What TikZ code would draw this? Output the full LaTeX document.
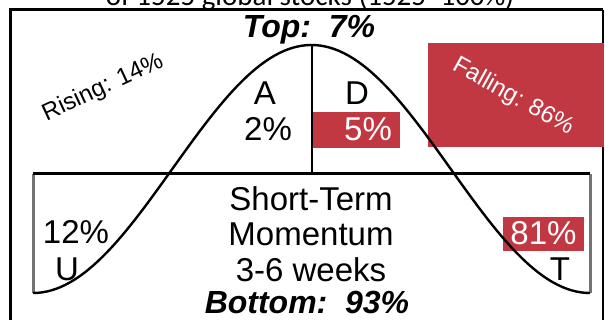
\documentclass[tikz,border=0pt]{standalone}
\usepackage{fontspec}
\setmainfont{Liberation Sans}
\newfontfamily\titulofont{Carlito}
\usetikzlibrary{positioning}
\definecolor{rojo}{RGB}{194,56,66}
\tikzset{
    etiqueta/.style={inner sep=0pt, anchor=base, font=\fontsize{33}{38}\selectfont},
    negrita/.style={etiqueta, font=\fontsize{32}{37}\selectfont\bfseries\itshape},
    girado/.style={inner sep=0pt, font=\fontsize{24}{28}\selectfont},
    cajaroja/.style={fill=rojo, text=white, inner sep=0pt},
    curva/.style={line width=2.4pt},
    lado/.style={line width=3pt, black!55},
}

\begin{document}
\begin{tikzpicture}[x=1pt, y=-1pt]
\useasboundingbox (0,0) rectangle (605,320);
\clip (0,0) rectangle (605,320);

% Titulo (cortado arriba)
\node[anchor=base, inner sep=0pt, font=\titulofont\fontsize{29}{34}\selectfont] (titulo) at (310,6) {of 1525 global stocks (1525=100\%)};

% Marco exterior
\draw[line width=3pt] (10,330) -- (10,10) -- (603,10);
\draw[line width=1.2pt] (603,10) -- (603,330);

% Cajas rojas
\node[cajaroja, minimum width=176pt, minimum height=104pt, anchor=north west] (caida) at (428,43) {};
\node[girado, text=white, rotate=-29] (falling) at (513,97) {Falling: 86\%};
\node[cajaroja, minimum width=87pt, minimum height=36pt, anchor=north west] (cajaD) at (313,112) {};
\node[cajaroja, minimum width=81pt, minimum height=34pt, anchor=north west] (cajaT) at (503,217) {};

% Caja interior
\coordinate (esqIzq) at (33,174);
\coordinate (esqDer) at (590,174);
\coordinate (pieIzq) at (33,293);
\coordinate (pieDer) at (590,293);
\draw[lado] (esqIzq) -- (pieIzq);
\draw[lado] (esqDer) -- (pieDer);
\draw[line width=3pt] (esqIzq) -- (esqDer);

% Curva del ciclo
\draw[curva] plot[domain=-180:180, samples=121] ({311.5+\x/360*557}, {169-124*cos(\x)});
\coordinate (cima) at (312,45);
\coordinate (base) at (312,174);
\draw[line width=2pt] (cima) -- (base);

% Textos
\node[negrita] (top) at (309,38) {Top:~~7\%};
\node[girado, rotate=25] (rising) at (103,88) {Rising: 14\%};
\node[etiqueta] (A) at (265,105) {A};
\node[etiqueta] (D) at (357,105) {D};
\node[etiqueta] (dosp) at (268,141) {2\%};
\node[etiqueta, text=white] (cincop) at (368,141) {5\%};
\node[etiqueta] (corto) at (311,211) {Short-Term};
\node[etiqueta] (momento) at (311,246) {Momentum};
\node[etiqueta] (semanas) at (311,282) {3-6 weeks};
\node[etiqueta] (docep) at (76,244) {12\%};
\node[etiqueta] (U) at (67,281) {U};
\node[etiqueta, text=white] (ochentap) at (543.5,245) {81\%};
\node[etiqueta] (T) at (560,281) {T};
\node[negrita] (bottom) at (307,314) {Bottom:~~93\%};
\end{tikzpicture}
\end{document}
